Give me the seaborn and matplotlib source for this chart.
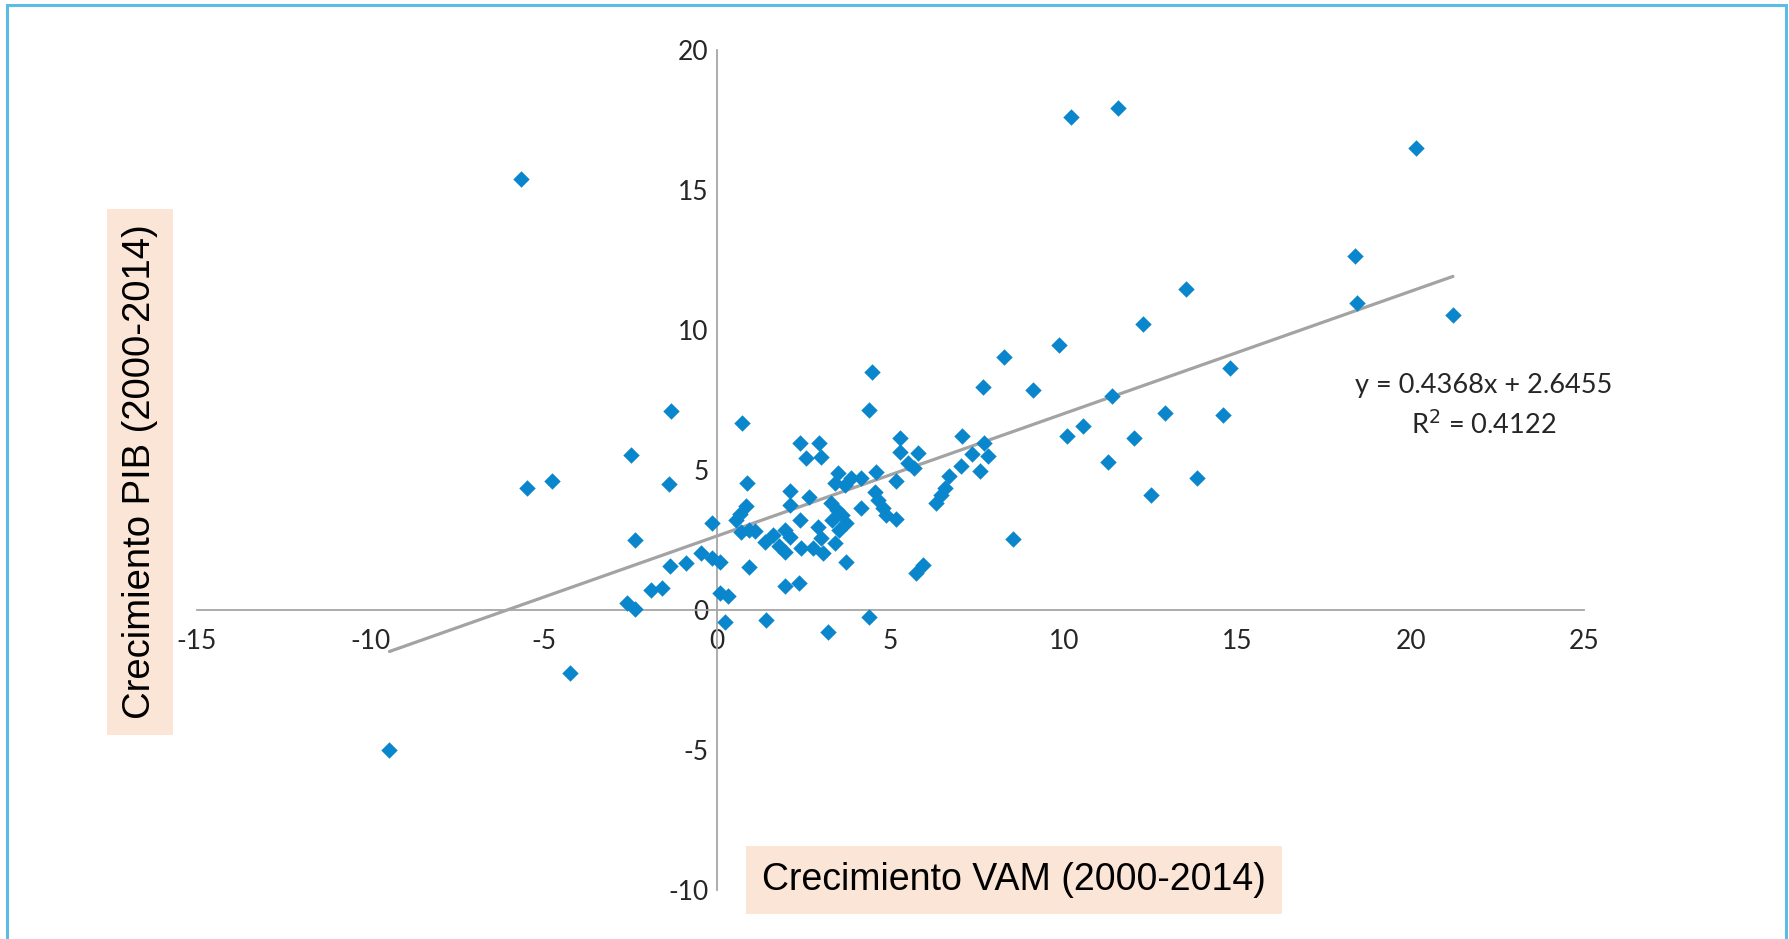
"""Scatter of VAM growth vs GDP growth (2000-2014) with linear trend, Excel-like layout."""

import matplotlib
matplotlib.use("Agg")
import matplotlib.pyplot as plt
import matplotlib.patches as mpatches
import numpy as np
import pandas as pd
import seaborn as sns


# data
vam_growth = [
    -9.45, -5.65, -5.49, -4.77, -4.24,
    -2.60, -2.37, -2.47, -2.38, -1.92, -1.58, -1.40, -1.32, -1.37, -0.90,
    -0.46, -0.16, -0.14, 0.08, 0.07, 0.30, 0.22, 0.55, 0.66, 0.73,
    0.84, 0.87, 0.70, 0.91, 0.91, 1.10, 1.37, 1.40, 1.62, 1.78,
    1.97, 1.97, 1.97,
    2.10, 2.10, 2.09, 2.36, 2.38, 2.55, 2.95, 3.00, 2.66, 2.38,
    2.90, 3.00, 2.76, 2.43, 3.05, 3.19, 3.27, 3.32, 3.39, 3.39,
    3.48, 3.46, 3.51, 3.61, 3.71, 3.72, 3.68, 3.87, 4.15, 4.15,
    4.37, 4.47, 4.37, 4.54, 4.59, 4.63, 4.78, 4.88, 5.17, 5.15,
    5.26, 5.26, 5.50, 5.69, 5.79, 5.74, 5.93, 6.32, 6.46, 6.56,
    6.68, 7.04, 7.07, 7.36, 7.57, 7.71, 7.82, 7.66,
    8.27, 8.54, 9.10, 9.85, 10.10, 10.21, 10.55, 11.28, 11.38, 11.55,
    12.02, 12.27, 12.52, 12.92, 13.51, 13.83, 14.58, 14.78, 18.40, 18.46,
    20.16, 21.22,
]
pib_growth = [
    -5.00, 15.40, 4.35, 4.62, -2.25,
    0.26, 0.03, 5.55, 2.50, 0.70, 0.80, 4.50, 7.10, 1.56, 1.69,
    2.03, 1.86, 3.12, 1.73, 0.60, 0.50, -0.43, 3.20, 3.42, 6.68,
    3.72, 4.52, 2.78, 2.86, 1.55, 2.82, 2.44, -0.36, 2.68, 2.30,
    2.06, 2.87, 0.86,
    4.25, 3.75, 2.62, 0.95, 5.95, 5.42, 5.98, 5.45, 4.05, 3.21,
    2.98, 2.56, 2.20, 2.20, 2.02, -0.77, 3.81, 3.21, 2.38, 4.52,
    4.90, 3.57, 2.86, 3.39, 3.10, 1.73, 4.46, 4.72, 4.72, 3.63,
    7.14, 8.50, -0.24, 4.23, 4.92, 3.93, 3.63, 3.39, 3.25, 4.60,
    6.13, 5.65, 5.24, 5.06, 5.60, 1.31, 1.61, 3.81, 4.11, 4.35,
    4.80, 5.15, 6.23, 5.56, 4.96, 5.98, 5.50, 7.98,
    9.05, 2.55, 7.84, 9.45, 6.22, 17.60, 6.58, 5.28, 7.65, 17.93,
    6.16, 10.20, 4.12, 7.02, 11.48, 4.71, 6.95, 8.66, 12.63, 10.96,
    16.50, 10.53,
]

# trend line as printed on the chart
trend_slope = 0.4368
trend_intercept = 2.6455
r_squared = 0.4122

x_ticks = [-15, -10, -5, 0, 5, 10, 15, 20, 25]
y_ticks = [-10, -5, 0, 5, 10, 15, 20]

x_label = "Crecimiento VAM (2000-2014)"
y_label = "Crecimiento PIB (2000-2014)"


def main() -> None:
    sns.set_theme(style="white")
    plt.rcParams["font.family"] = ["Lato", "DejaVu Sans"]

    df = pd.DataFrame({"vam": vam_growth, "pib": pib_growth})

    W, H = 1789, 939
    fig = plt.figure(figsize=(W / 100, H / 100), dpi=100)
    ax = fig.add_axes([197 / W, 1 - 890 / H, (1584 - 197) / W, (890 - 50) / H])

    sns.scatterplot(data=df, x="vam", y="pib", marker="D", s=70, color="#0A86CC",
                    linewidth=0, ax=ax, zorder=3)

    line_x = np.array([df["vam"].min(), df["vam"].max()])
    trend = pd.DataFrame({"x": line_x, "y": trend_slope * line_x + trend_intercept})
    sns.lineplot(data=trend, x="x", y="y", color="#A3A3A3", linewidth=2.3, ax=ax, zorder=2)

    ax.set_xlim(x_ticks[0], x_ticks[-1])
    ax.set_ylim(y_ticks[0], y_ticks[-1])
    ax.set_xticks(x_ticks)
    ax.set_yticks(y_ticks)
    ax.set_xticklabels([str(t) for t in x_ticks])
    ax.set_yticklabels([str(t) for t in y_ticks])
    ax.set_xlabel("")
    ax.set_ylabel("")

    for side in ["top", "right"]:
        ax.spines[side].set_visible(False)
    ax.spines["left"].set_position(("data", 0))
    ax.spines["bottom"].set_position(("data", 0))
    for side in ["left", "bottom"]:
        ax.spines[side].set_color("#A6A6A6")
        ax.spines[side].set_linewidth(1.3)

    ax.tick_params(axis="both", which="major", direction="out", length=4, width=1.1,
                   color="#A6A6A6", labelsize=19, labelcolor="#262626")
    ax.tick_params(axis="x", pad=10)
    ax.tick_params(axis="y", pad=2)
    ax.grid(False)

    fig.text(1484 / W, 1 - 385 / H, f"y = {trend_slope}x + {trend_intercept}",
             ha="center", va="center", fontsize=19.5, color="#262626")
    fig.text(1484 / W, 1 - 425 / H, f"R$^2$ = {r_squared}",
             ha="center", va="center", fontsize=19.5, color="#262626")

    box = dict(boxstyle="square,pad=0.42", facecolor="#FBE5D6", edgecolor="none")
    fig.text(1014 / W, 1 - 880 / H, x_label, ha="center", va="center", fontsize=27,
             family="Liberation Sans", color="black", bbox=box)
    fig.text(140 / W, 1 - 472 / H, y_label, ha="center", va="center", fontsize=27.5,
             family="Liberation Sans", color="black", rotation=90,
             bbox=dict(boxstyle="square,pad=0.4", facecolor="#FBE5D6", edgecolor="none"))

    border = mpatches.Rectangle((7 / W, -0.05), (1786 - 7) / W, 1.05 - 5 / H,
                                transform=fig.transFigure, fill=False,
                                edgecolor="#5BBDE4", linewidth=2.2)
    fig.patches.append(border)

    fig.savefig("out.png", dpi=100)
    plt.close(fig)


if __name__ == "__main__":
    main()
